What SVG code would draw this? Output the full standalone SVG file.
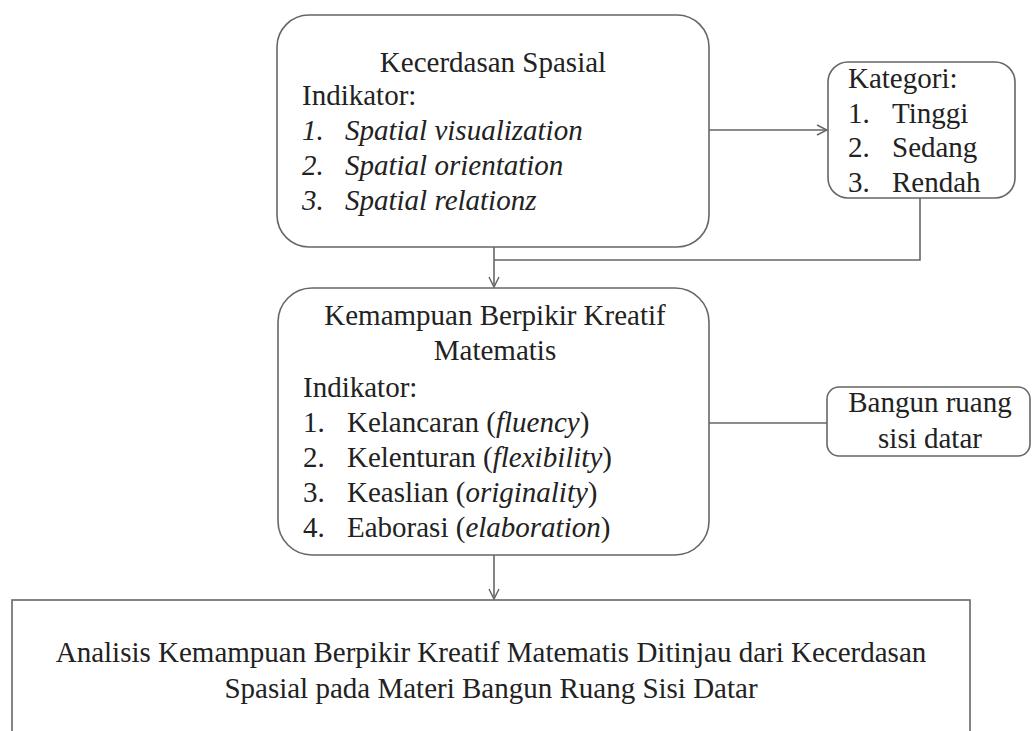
<svg xmlns="http://www.w3.org/2000/svg" width="1032" height="731" viewBox="0 0 1032 731">
<style>
.box{fill:#fff;stroke:#666;stroke-width:1.6}
.t{font-family:"Liberation Serif","Times New Roman",serif;font-size:29px;fill:#222}
.c{text-anchor:middle}
.i{font-style:italic}
.ln{fill:none;stroke:#666;stroke-width:1.6}
</style>
<defs>
<marker id="arr" viewBox="0 0 12 12" refX="11" refY="6" markerWidth="12" markerHeight="12" markerUnits="userSpaceOnUse" orient="auto">
<path d="M1,1 L11,6 L1,11" fill="none" stroke="#666" stroke-width="1.5"/>
</marker>
</defs>
<rect width="1032" height="731" fill="#fff"/>
<g id="connectors">
<line class="ln" x1="709" y1="130" x2="827" y2="130" marker-end="url(#arr)"/>
<polyline class="ln" points="920,198 920,260 494,260"/>
<line class="ln" x1="494" y1="247" x2="494" y2="287" marker-end="url(#arr)"/>
<line class="ln" x1="709" y1="423" x2="827" y2="423"/>
<line class="ln" x1="494" y1="555" x2="494" y2="599" marker-end="url(#arr)"/>
</g>
<g id="kecerdasan">
<rect class="box" x="277" y="15" width="432" height="232" rx="32" ry="32"/>
<text class="t c" x="493" y="72">Kecerdasan Spasial</text>
<text class="t" x="302" y="105">Indikator:</text>
<text class="t i" x="302" y="140">1.</text>
<text class="t i" x="345" y="140">Spatial visualization</text>
<text class="t i" x="302" y="175">2.</text>
<text class="t i" x="345" y="175">Spatial orientation</text>
<text class="t i" x="302" y="210">3.</text>
<text class="t i" x="345" y="210">Spatial relationz</text>
</g>
<g id="kategori">
<rect class="box" x="828" y="62" width="187" height="136" rx="20" ry="20"/>
<text class="t" x="848" y="88">Kategori:</text>
<text class="t" x="848" y="123">1.</text>
<text class="t" x="892" y="123">Tinggi</text>
<text class="t" x="848" y="157">2.</text>
<text class="t" x="892" y="157">Sedang</text>
<text class="t" x="848" y="192">3.</text>
<text class="t" x="892" y="192">Rendah</text>
</g>
<g id="kemampuan">
<rect class="box" x="278" y="288" width="431" height="267" rx="34" ry="34"/>
<text class="t c" x="495" y="325">Kemampuan Berpikir Kreatif</text>
<text class="t c" x="495" y="360">Matematis</text>
<text class="t" x="303" y="397">Indikator:</text>
<text class="t" x="303" y="432">1.</text>
<text class="t" x="347" y="432">Kelancaran (<tspan class="i">fluency</tspan>)</text>
<text class="t" x="303" y="467">2.</text>
<text class="t" x="347" y="467">Kelenturan (<tspan class="i">flexibility</tspan>)</text>
<text class="t" x="303" y="502">3.</text>
<text class="t" x="347" y="502">Keaslian (<tspan class="i">originality</tspan>)</text>
<text class="t" x="303" y="537">4.</text>
<text class="t" x="347" y="537">Eaborasi (<tspan class="i">elaboration</tspan>)</text>
</g>
<g id="bangun">
<rect class="box" x="827" y="387" width="203" height="69" rx="12" ry="12"/>
<text class="t c" x="930" y="412">Bangun ruang</text>
<text class="t c" x="930" y="448">sisi datar</text>
</g>
<g id="analisis">
<rect class="box" x="12" y="600" width="958" height="150"/>
<text class="t c" x="491" y="662">Analisis Kemampuan Berpikir Kreatif Matematis Ditinjau dari Kecerdasan</text>
<text class="t c" x="491" y="698">Spasial pada Materi Bangun Ruang Sisi Datar</text>
</g>
</svg>
